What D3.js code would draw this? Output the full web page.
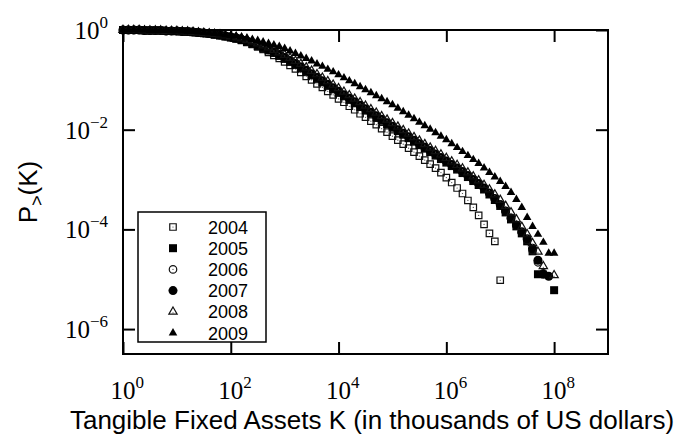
<!DOCTYPE html>
<html>
<head>
<meta charset="utf-8">
<script src="https://cdn.jsdelivr.net/npm/d3@7"></script>
<style>
  html, body { margin: 0; padding: 0; background: #fff; }
  svg { display: block; }
</style>
</head>
<body>
<svg id="chart" width="685" height="437"></svg>
<script>
// log10 of K (thousands of US dollars), one bin per 0.1 decade
const kExp = [
  0.0,0.1,0.2,0.3,0.4,0.5,0.6,0.7,0.8,0.9,
  1.0,1.1,1.2,1.3,1.4,1.5,1.6,1.7,1.8,1.9,
  2.0,2.1,2.2,2.3,2.4,2.5,2.6,2.7,2.8,2.9,
  3.0,3.1,3.2,3.3,3.4,3.5,3.6,3.7,3.8,3.9,
  4.0,4.1,4.2,4.3,4.4,4.5,4.6,4.7,4.8,4.9,
  5.0,5.1,5.2,5.3,5.4,5.5,5.6,5.7,5.8,5.9,
  6.0,6.1,6.2,6.3,6.4,6.5,6.6,6.7,6.8,6.9,
  7.0,7.1,7.2,7.3,7.4,7.5,7.6,7.7,7.8,7.9,
  8.0
];

// log10 of P>(K) per year, aligned with kExp (null = empty bin)
const p2004 = [
  0.00,0.00,0.00,0.00,-0.01,-0.01,-0.01,-0.01,-0.02,-0.02,
  -0.03,-0.03,-0.04,-0.05,-0.06,-0.07,-0.08,-0.10,-0.11,-0.13,
  -0.15,-0.18,-0.21,-0.25,-0.29,-0.34,-0.39,-0.45,-0.51,-0.57,
  -0.64,-0.71,-0.78,-0.85,-0.93,-1.00,-1.08,-1.15,-1.23,-1.30,
  -1.38,-1.45,-1.53,-1.60,-1.68,-1.75,-1.83,-1.90,-1.98,-2.05,
  -2.13,-2.21,-2.29,-2.37,-2.45,-2.53,-2.61,-2.69,-2.77,-2.86,
  -2.96,-3.06,-3.17,-3.28,-3.42,-3.56,-3.72,-3.90,-4.08,-4.24,
  -5.02,null,null,null,null,null,null,null,null,null,
  null
];
const p2005 = [
  0.00,0.00,0.00,0.00,-0.01,-0.01,-0.01,-0.01,-0.02,-0.02,
  -0.02,-0.03,-0.03,-0.04,-0.05,-0.06,-0.07,-0.09,-0.11,-0.13,
  -0.15,-0.17,-0.20,-0.24,-0.28,-0.32,-0.36,-0.41,-0.46,-0.52,
  -0.58,-0.64,-0.70,-0.77,-0.84,-0.91,-0.98,-1.05,-1.12,-1.19,
  -1.26,-1.33,-1.40,-1.47,-1.54,-1.61,-1.68,-1.75,-1.82,-1.89,
  -1.96,-2.03,-2.10,-2.17,-2.24,-2.31,-2.38,-2.45,-2.52,-2.59,
  -2.66,-2.73,-2.80,-2.87,-2.95,-3.03,-3.11,-3.20,-3.30,-3.41,
  -3.53,-3.66,-3.80,-3.94,-4.08,-4.24,-4.44,-4.90,null,null,
  -5.22
];
const p2006 = [
  0.00,0.00,0.00,0.00,-0.01,-0.01,-0.01,-0.01,-0.02,-0.02,
  -0.02,-0.03,-0.03,-0.04,-0.05,-0.06,-0.07,-0.08,-0.10,-0.12,
  -0.14,-0.16,-0.19,-0.23,-0.27,-0.31,-0.35,-0.40,-0.45,-0.50,
  -0.56,-0.62,-0.68,-0.75,-0.82,-0.89,-0.96,-1.03,-1.10,-1.17,
  -1.24,-1.31,-1.38,-1.45,-1.52,-1.59,-1.66,-1.73,-1.80,-1.87,
  -1.94,-2.01,-2.08,-2.15,-2.22,-2.29,-2.36,-2.43,-2.50,-2.57,
  -2.64,-2.71,-2.78,-2.85,-2.93,-3.01,-3.09,-3.18,-3.28,-3.39,
  -3.51,-3.64,-3.78,-3.92,-4.06,-4.21,-4.42,-4.66,-4.88,null,
  null
];
const p2007 = [
  0.00,0.00,0.00,0.00,-0.01,-0.01,-0.01,-0.01,-0.02,-0.02,
  -0.02,-0.03,-0.03,-0.04,-0.05,-0.06,-0.07,-0.08,-0.10,-0.12,
  -0.14,-0.16,-0.19,-0.22,-0.26,-0.30,-0.34,-0.39,-0.44,-0.49,
  -0.55,-0.61,-0.67,-0.74,-0.81,-0.88,-0.95,-1.02,-1.09,-1.16,
  -1.23,-1.30,-1.37,-1.44,-1.51,-1.58,-1.65,-1.72,-1.79,-1.86,
  -1.93,-2.00,-2.07,-2.14,-2.21,-2.28,-2.35,-2.42,-2.49,-2.56,
  -2.63,-2.70,-2.77,-2.84,-2.92,-3.00,-3.08,-3.17,-3.27,-3.38,
  -3.50,-3.63,-3.77,-3.91,-4.05,-4.19,-4.38,-4.62,-4.90,-4.94,
  null
];
const p2008 = [
  0.00,0.00,0.00,0.00,-0.01,-0.01,-0.01,-0.01,-0.02,-0.02,
  -0.02,-0.03,-0.03,-0.04,-0.05,-0.06,-0.07,-0.08,-0.09,-0.11,
  -0.13,-0.15,-0.17,-0.20,-0.23,-0.27,-0.31,-0.35,-0.40,-0.45,
  -0.50,-0.56,-0.62,-0.68,-0.75,-0.82,-0.89,-0.96,-1.03,-1.10,
  -1.17,-1.24,-1.31,-1.38,-1.45,-1.52,-1.59,-1.66,-1.73,-1.80,
  -1.87,-1.94,-2.01,-2.08,-2.15,-2.22,-2.29,-2.36,-2.43,-2.50,
  -2.57,-2.64,-2.71,-2.78,-2.86,-2.94,-3.02,-3.11,-3.20,-3.30,
  -3.41,-3.53,-3.66,-3.80,-3.95,-4.10,-4.28,-4.45,-4.74,null,
  -4.92
];
const p2009 = [
  0.00,0.00,0.00,0.00,0.00,-0.01,-0.01,-0.01,-0.01,-0.02,
  -0.02,-0.02,-0.03,-0.03,-0.04,-0.05,-0.06,-0.07,-0.08,-0.10,
  -0.11,-0.12,-0.14,-0.16,-0.19,-0.21,-0.24,-0.27,-0.30,-0.33,
  -0.37,-0.42,-0.47,-0.52,-0.57,-0.62,-0.68,-0.73,-0.79,-0.84,
  -0.90,-0.96,-1.02,-1.08,-1.14,-1.20,-1.26,-1.32,-1.38,-1.44,
  -1.50,-1.57,-1.64,-1.71,-1.78,-1.85,-1.92,-1.99,-2.06,-2.13,
  -2.20,-2.28,-2.36,-2.44,-2.52,-2.60,-2.68,-2.77,-2.86,-2.95,
  -3.04,-3.14,-3.26,-3.40,-3.56,-3.76,-3.94,-4.10,-4.26,-4.48,
  -4.48
];

const years = ["2004","2005","2006","2007","2008","2009"];
const xTickExp = [0, 2, 4, 6, 8];
const yTickExp = [0, -2, -4, -6];
const xTitle = "Tangible Fixed Assets K (in thousands of US dollars)";

const seriesValues = [p2004, p2005, p2006, p2007, p2008, p2009];
const markerStyles = [
  { type: d3.symbolSquare,   size: 42, filled: false },
  { type: d3.symbolSquare,   size: 64, filled: true  },
  { type: d3.symbolCircle,   size: 44, filled: false },
  { type: d3.symbolCircle,   size: 64, filled: true  },
  { type: d3.symbolTriangle, size: 30, filled: false },
  { type: d3.symbolTriangle, size: 32, filled: true  }
];

const svg = d3.select("#chart");
const plotL = 123, plotR = 608, plotT = 30, plotB = 354;

const x = d3.scaleLog().domain([1, 1e9]).range([plotL, plotR]);
const y = d3.scaleLog().domain([Math.pow(10, -6.5), 1]).range([plotB, plotT]);

// data markers, drawn year by year
const plot = svg.append("g");
years.forEach((yr, s) => {
  const st = markerStyles[s];
  const pts = kExp.map((e, i) => ({ k: Math.pow(10, e), p: seriesValues[s][i] }))
                  .filter(d => d.p !== null)
                  .map(d => ({ k: d.k, p: Math.pow(10, d.p) }));
  const g = plot.append("g");
  const sym = d3.symbol().type(st.type).size(st.size);
  g.selectAll("path").data(pts).join("path")
    .attr("transform", d => `translate(${x(d.k)},${y(d.p)})`)
    .attr("d", sym)
    .attr("fill", st.filled ? "#000" : "none")
    .attr("stroke", st.filled ? "none" : "#111")
    .attr("stroke-width", 1.2);
  if (!st.filled) {
    g.selectAll("circle").data(pts).join("circle")
      .attr("cx", d => x(d.k)).attr("cy", d => y(d.p) + (st.type === d3.symbolTriangle ? 1 : 0))
      .attr("r", 0.6).attr("fill", "#444");
  }
});

// frame
svg.append("rect")
  .attr("x", plotL).attr("y", plotT)
  .attr("width", plotR - plotL).attr("height", plotB - plotT)
  .attr("fill", "none").attr("stroke", "#000").attr("stroke-width", 2);

// inward ticks on all four sides
const tickLen = 12;
const xTicks = xTickExp.map(e => Math.pow(10, e));
const yTicks = yTickExp.map(e => Math.pow(10, e));
svg.append("g").attr("transform", `translate(0,${plotB})`)
  .call(d3.axisBottom(x).tickValues(xTicks).tickSize(-tickLen).tickFormat(""))
  .call(g => g.select(".domain").remove());
svg.append("g").attr("transform", `translate(0,${plotT})`)
  .call(d3.axisTop(x).tickValues(xTicks).tickSize(-tickLen).tickFormat(""))
  .call(g => g.select(".domain").remove());
svg.append("g").attr("transform", `translate(${plotL},0)`)
  .call(d3.axisLeft(y).tickValues(yTicks).tickSize(-tickLen).tickFormat(""))
  .call(g => g.select(".domain").remove());
svg.append("g").attr("transform", `translate(${plotR},0)`)
  .call(d3.axisRight(y).tickValues(yTicks).tickSize(-tickLen).tickFormat(""))
  .call(g => g.select(".domain").remove());
svg.selectAll(".tick line").attr("stroke", "#000").attr("stroke-width", 2);

// tick labels as powers of ten
const serif = "'Liberation Serif', 'Times New Roman', serif";
xTickExp.forEach(e => {
  const t = svg.append("text")
    .attr("x", x(Math.pow(10, e)) - 12.5).attr("y", 399)
    .attr("font-family", serif).attr("font-size", 25).attr("fill", "#000");
  t.append("tspan").text("10");
  t.append("tspan").attr("dy", -11).attr("font-size", 17).text(String(e).replace("-", "\u2212"));
});
yTickExp.forEach(e => {
  const t = svg.append("text")
    .attr("x", 108).attr("y", y(Math.pow(10, e)) + 9)
    .attr("text-anchor", "end")
    .attr("font-family", serif).attr("font-size", 25).attr("fill", "#000");
  t.append("tspan").text("10");
  t.append("tspan").attr("dy", -11).attr("font-size", 17).text(String(e).replace("-", "\u2212"));
});

// axis titles
const sans = "'Liberation Sans', Arial, sans-serif";
svg.append("text")
  .attr("x", 372).attr("y", 429)
  .attr("text-anchor", "middle")
  .attr("font-family", sans).attr("font-size", 26).attr("fill", "#000")
  .text(xTitle);
const yt = svg.append("text")
  .attr("transform", `translate(37,${(plotT + plotB) / 2}) rotate(-90)`)
  .attr("text-anchor", "middle")
  .attr("font-family", sans).attr("font-size", 26).attr("fill", "#000");
yt.append("tspan").text("P");
yt.append("tspan").attr("dy", 6).attr("font-size", 18).text(">");
yt.append("tspan").attr("dy", -6).text("(K)");

// legend
const legX = 138, legY = 212, legW = 128, legH = 130, rowH = 21.2;
svg.append("rect")
  .attr("x", legX).attr("y", legY).attr("width", legW).attr("height", legH)
  .attr("fill", "#fff").attr("stroke", "#000").attr("stroke-width", 1.5);
years.forEach((yr, s) => {
  const st = markerStyles[s];
  const cy = legY + 15 + s * rowH;
  svg.append("path")
    .attr("transform", `translate(173,${cy})`)
    .attr("d", d3.symbol().type(st.type).size(st.size)())
    .attr("fill", st.filled ? "#000" : "none")
    .attr("stroke", st.filled ? "none" : "#111")
    .attr("stroke-width", 1.2);
  if (!st.filled) {
    svg.append("circle").attr("cx", 173).attr("cy", cy + (st.type === d3.symbolTriangle ? 1 : 0))
      .attr("r", 0.6).attr("fill", "#444");
  }
  svg.append("text")
    .attr("x", 208).attr("y", cy + 6.5)
    .attr("font-family", sans).attr("font-size", 18).attr("fill", "#000")
    .text(yr);
});
</script>
</body>
</html>
